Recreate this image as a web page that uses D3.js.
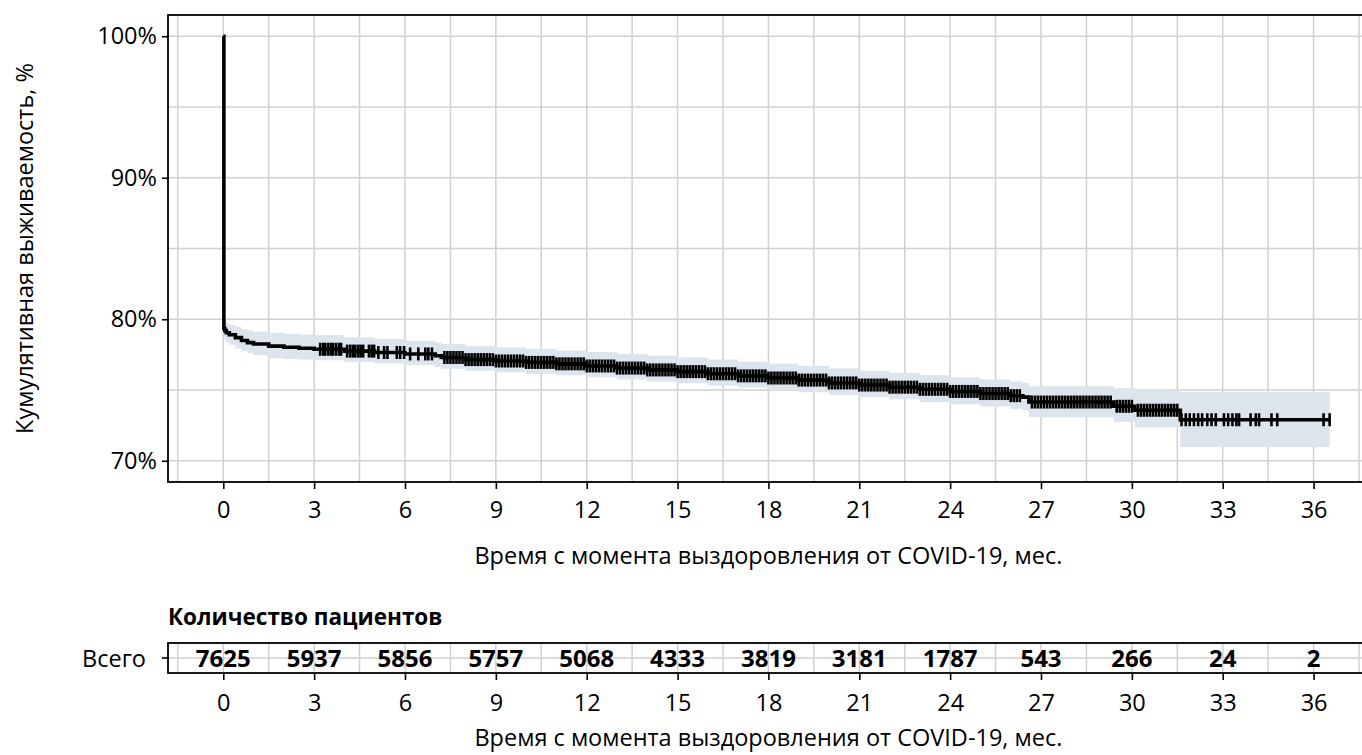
<!DOCTYPE html>
<html>
<head>
<meta charset="utf-8">
<script src="https://cdn.jsdelivr.net/npm/d3@7"></script>
<style>
  body { margin: 0; background: #fff; }
  svg text { font-family: "Open Sans", sans-serif; fill: #000; }
</style>
</head>
<body>
<svg id="km" width="1362" height="755"></svg>
<script>
// Kaplan-Meier step points (months, %)
const kmTime  = [0, 0.02, 0.05, 0.1, 0.2, 0.4, 0.6, 0.8, 1.0, 1.5, 2.0, 2.5, 3.0, 4.0, 5.0, 6.0, 7.0, 7.2, 8, 9, 10, 11, 12, 13, 14, 15, 16, 17, 18, 19, 20, 21, 22, 23, 24, 25, 26, 26.4, 26.6, 29.4, 30.1, 31.6, 36.53];
const kmSurv  = [100, 79.35, 79.2, 79.05, 78.9, 78.7, 78.5, 78.35, 78.25, 78.1, 78.02, 77.95, 77.88, 77.75, 77.65, 77.55, 77.42, 77.3, 77.15, 77.05, 76.95, 76.85, 76.7, 76.55, 76.42, 76.3, 76.15, 76.0, 75.85, 75.7, 75.5, 75.35, 75.2, 75.05, 74.9, 74.75, 74.6, 74.5, 74.15, 73.85, 73.57, 72.9, 72.9];
const kmLower = [100, 78.75, 78.5, 78.35, 78.2, 77.95, 77.75, 77.6, 77.45, 77.25, 77.2, 77.15, 77.1, 76.98, 76.87, 76.77, 76.62, 76.5, 76.37, 76.25, 76.15, 76.05, 75.9, 75.75, 75.6, 75.48, 75.32, 75.17, 75.0, 74.85, 74.65, 74.5, 74.35, 74.15, 74.0, 73.83, 73.68, 73.55, 73.07, 72.74, 72.35, 70.98, 70.98];
const kmUpper = [100, 79.95, 79.85, 79.72, 79.6, 79.45, 79.3, 79.2, 79.12, 79.05, 78.98, 78.92, 78.87, 78.72, 78.6, 78.48, 78.35, 78.25, 78.1, 78.0, 77.9, 77.8, 77.68, 77.55, 77.42, 77.3, 77.15, 77.0, 76.86, 76.7, 76.52, 76.37, 76.2, 76.05, 75.9, 75.75, 75.6, 75.5, 75.27, 75.12, 75.0, 74.86, 74.86];

// censoring times (months)
const censorTimes = [
  3.20,3.30,3.37,3.47,3.56,3.63,3.73,3.83,3.89,4.09,4.19,4.28,4.36,4.46,4.54,4.62,
  4.81,4.90,4.98,5.12,5.31,5.42,5.73,5.84,5.97,6.17,6.44,6.67,6.77,6.89,
  7.3,7.4,7.5,7.6,7.7,7.8,7.9,
  8.0,8.1,8.2,8.3,8.4,8.5,8.6,8.7,8.8,8.9,
  9.0,9.1,9.2,9.3,9.4,9.5,9.6,9.7,9.8,9.9,
  10.0,10.1,10.2,10.3,10.4,10.5,10.6,10.7,10.8,10.9,
  11.0,11.1,11.2,11.3,11.4,11.5,11.6,11.7,11.8,11.9,
  12.0,12.1,12.2,12.3,12.4,12.5,12.6,12.7,12.8,12.9,
  13.0,13.1,13.2,13.3,13.4,13.5,13.6,13.7,13.8,13.9,
  14.0,14.1,14.2,14.3,14.4,14.5,14.6,14.7,14.8,14.9,
  15.0,15.1,15.2,15.3,15.4,15.5,15.6,15.7,15.8,15.9,
  16.0,16.1,16.2,16.3,16.4,16.5,16.6,16.7,16.8,16.9,
  17.0,17.1,17.2,17.3,17.4,17.5,17.6,17.7,17.8,17.9,
  18.0,18.1,18.2,18.3,18.4,18.5,18.6,18.7,18.8,18.9,
  19.0,19.1,19.2,19.3,19.4,19.5,19.6,19.7,19.8,19.9,
  20.0,20.1,20.2,20.3,20.4,20.5,20.6,20.7,20.8,20.9,
  21.0,21.1,21.2,21.3,21.4,21.5,21.6,21.7,21.8,21.9,
  22.0,22.1,22.2,22.3,22.4,22.5,22.6,22.7,22.8,22.9,
  23.0,23.1,23.2,23.3,23.4,23.5,23.6,23.7,23.8,23.9,
  24.0,24.1,24.2,24.3,24.4,24.5,24.6,24.7,24.8,24.9,
  25.0,25.1,25.2,25.3,25.4,25.5,25.6,25.7,25.8,25.9,
  26.0,26.1,26.2,26.3,
  26.7,26.8,26.9,27.0,27.1,27.2,27.3,27.4,27.5,27.6,27.7,27.8,27.9,
  28.0,28.1,28.2,28.3,28.4,28.5,28.6,28.7,28.8,28.9,29.0,29.1,29.2,29.3,
  29.5,29.6,29.7,29.8,29.9,30.0,
  30.2,30.3,30.4,30.5,30.6,30.7,30.8,30.9,31.0,31.1,31.2,31.3,31.4,31.5,
  31.64,31.78,31.91,32.05,32.19,32.32,32.49,32.63,32.77,33.04,33.18,33.32,33.45,33.54,
  33.92,34.09,34.20,34.61,34.80,36.33,36.53
];

// number at risk
const riskTimes  = [0, 3, 6, 9, 12, 15, 18, 21, 24, 27, 30, 33, 36];
const riskCounts = [7625, 5937, 5856, 5757, 5068, 4333, 3819, 3181, 1787, 543, 266, 24, 2];

const xTicks = [0, 3, 6, 9, 12, 15, 18, 21, 24, 27, 30, 33, 36];
const xMinor = [-1.5, 1.5, 4.5, 7.5, 10.5, 13.5, 16.5, 19.5, 22.5, 25.5, 28.5, 31.5, 34.5, 37.5];
const yTicks = [70, 80, 90, 100];
const yMinor = [75, 85, 95];

const xTitle = 'Время с момента выздоровления от COVID-19, мес.';
const yTitle = 'Кумулятивная выживаемость, %';
const tableTitle = 'Количество пациентов';
const stratumLabel = 'Всего';

const fontSize = 23.5;
const gridColor = '#d0d0d0';
const bandColor = '#dce4ee';

const panel = {left: 168, top: 15, right: 1384, bottom: 482};
const table = {top: 643, bottom: 673};

const svg = d3.select('#km');

const x = d3.scaleLinear()
    .domain([-1.825, 38.325])
    .range([panel.left, panel.right]);

const y = d3.scaleLinear()
    .domain([68.5, 101.5])
    .range([panel.bottom, panel.top]);

const km = kmTime.map((t, i) => ({t: t, s: kmSurv[i], lo: kmLower[i], hi: kmUpper[i]}));

svg.append('clipPath').attr('id', 'panel-clip')
    .append('rect')
    .attr('x', panel.left).attr('y', panel.top)
    .attr('width', panel.right - panel.left).attr('height', panel.bottom - panel.top);

const plotG = svg.append('g').attr('clip-path', 'url(#panel-clip)');

// grid
plotG.selectAll('.vgrid')
    .data(xTicks.concat(xMinor))
    .join('line')
    .attr('class', 'vgrid')
    .attr('x1', d => x(d)).attr('x2', d => x(d))
    .attr('y1', panel.top).attr('y2', panel.bottom)
    .attr('stroke', gridColor).attr('stroke-width', 1.5);

plotG.selectAll('.hgrid')
    .data(yTicks.concat(yMinor))
    .join('line')
    .attr('class', 'hgrid')
    .attr('x1', panel.left).attr('x2', panel.right)
    .attr('y1', d => y(d)).attr('y2', d => y(d))
    .attr('stroke', gridColor).attr('stroke-width', 1.5);

// confidence band
const band = d3.area()
    .x(d => x(d.t))
    .y0(d => y(d.lo))
    .y1(d => y(d.hi))
    .curve(d3.curveStepAfter);

plotG.append('path')
    .datum(km)
    .attr('d', band)
    .attr('fill', bandColor);

// survival curve
const line = d3.line()
    .x(d => x(d.t))
    .y(d => y(d.s))
    .curve(d3.curveStepAfter);

plotG.append('path')
    .datum(km)
    .attr('d', line)
    .attr('fill', 'none')
    .attr('stroke', '#000')
    .attr('stroke-width', 3.6);

// censor marks
const bisect = d3.bisector(d => d).right;
const survAt = t => kmSurv[Math.max(0, bisect(kmTime, t) - 1)];

plotG.selectAll('.censor')
    .data(censorTimes)
    .join('line')
    .attr('class', 'censor')
    .attr('x1', d => x(d)).attr('x2', d => x(d))
    .attr('y1', d => y(survAt(d)) - 6.5)
    .attr('y2', d => y(survAt(d)) + 6.5)
    .attr('stroke', '#000')
    .attr('stroke-width', 2.6);

// panel border
svg.append('rect')
    .attr('x', panel.left).attr('y', panel.top)
    .attr('width', panel.right - panel.left).attr('height', panel.bottom - panel.top)
    .attr('fill', 'none').attr('stroke', '#000').attr('stroke-width', 1.8);

// axes
const makeXAxis = pad => d3.axisBottom(x).tickValues(xTicks).tickSize(7).tickPadding(pad).tickFormat(d3.format('d'));
const yAxis = d3.axisLeft(y).tickValues(yTicks).tickSize(6).tickPadding(5).tickFormat(d => d + '%');

const styleAxis = g => {
    g.select('.domain').remove();
    g.selectAll('.tick line').attr('stroke', '#000').attr('stroke-width', 1.6);
    g.selectAll('.tick text').attr('font-size', fontSize).attr('font-family', '"Open Sans", sans-serif').attr('fill', '#000');
};

svg.append('g')
    .attr('transform', `translate(0,${panel.bottom})`)
    .call(makeXAxis(12))
    .call(styleAxis);

svg.append('g')
    .attr('transform', `translate(${panel.left},0)`)
    .call(yAxis)
    .call(styleAxis);

svg.append('text')
    .attr('x', x(18)).attr('y', 564)
    .attr('text-anchor', 'middle')
    .attr('font-size', fontSize)
    .text(xTitle);

svg.append('text')
    .attr('transform', `translate(33,${(panel.top + panel.bottom) / 2}) rotate(-90)`)
    .attr('text-anchor', 'middle')
    .attr('font-size', fontSize)
    .text(yTitle);

// risk table
svg.append('text')
    .attr('x', panel.left).attr('y', 625)
    .attr('font-size', fontSize - 1)
    .attr('font-weight', 'bold')
    .text(tableTitle);

const tableMid = (table.top + table.bottom) / 2;

svg.append('clipPath').attr('id', 'table-clip')
    .append('rect')
    .attr('x', panel.left).attr('y', table.top)
    .attr('width', panel.right - panel.left).attr('height', table.bottom - table.top);

const tableG = svg.append('g').attr('clip-path', 'url(#table-clip)');

tableG.selectAll('.tvgrid')
    .data(xTicks.concat(xMinor))
    .join('line')
    .attr('class', 'tvgrid')
    .attr('x1', d => x(d)).attr('x2', d => x(d))
    .attr('y1', table.top).attr('y2', table.bottom)
    .attr('stroke', gridColor).attr('stroke-width', 1.5);

tableG.append('line')
    .attr('x1', panel.left).attr('x2', panel.right)
    .attr('y1', tableMid).attr('y2', tableMid)
    .attr('stroke', gridColor).attr('stroke-width', 1.5);

svg.selectAll('.risk')
    .data(riskTimes)
    .join('text')
    .attr('class', 'risk')
    .attr('x', d => x(d))
    .attr('y', tableMid + 9)
    .attr('text-anchor', 'middle')
    .attr('font-size', 24)
    .attr('font-weight', 'bold')
    .text((d, i) => riskCounts[i]);

svg.append('rect')
    .attr('x', panel.left).attr('y', table.top)
    .attr('width', panel.right - panel.left).attr('height', table.bottom - table.top)
    .attr('fill', 'none').attr('stroke', '#000').attr('stroke-width', 1.8);

svg.append('line')
    .attr('x1', panel.left - 6).attr('x2', panel.left)
    .attr('y1', tableMid).attr('y2', tableMid)
    .attr('stroke', '#000').attr('stroke-width', 1.6);

svg.append('text')
    .attr('x', panel.left - 22).attr('y', tableMid + 9)
    .attr('text-anchor', 'end')
    .attr('font-size', fontSize)
    .text(stratumLabel);

svg.append('g')
    .attr('transform', `translate(0,${table.bottom})`)
    .call(makeXAxis(14))
    .call(styleAxis);

svg.append('text')
    .attr('x', x(18)).attr('y', 746)
    .attr('text-anchor', 'middle')
    .attr('font-size', fontSize)
    .text(xTitle);
</script>
</body>
</html>
